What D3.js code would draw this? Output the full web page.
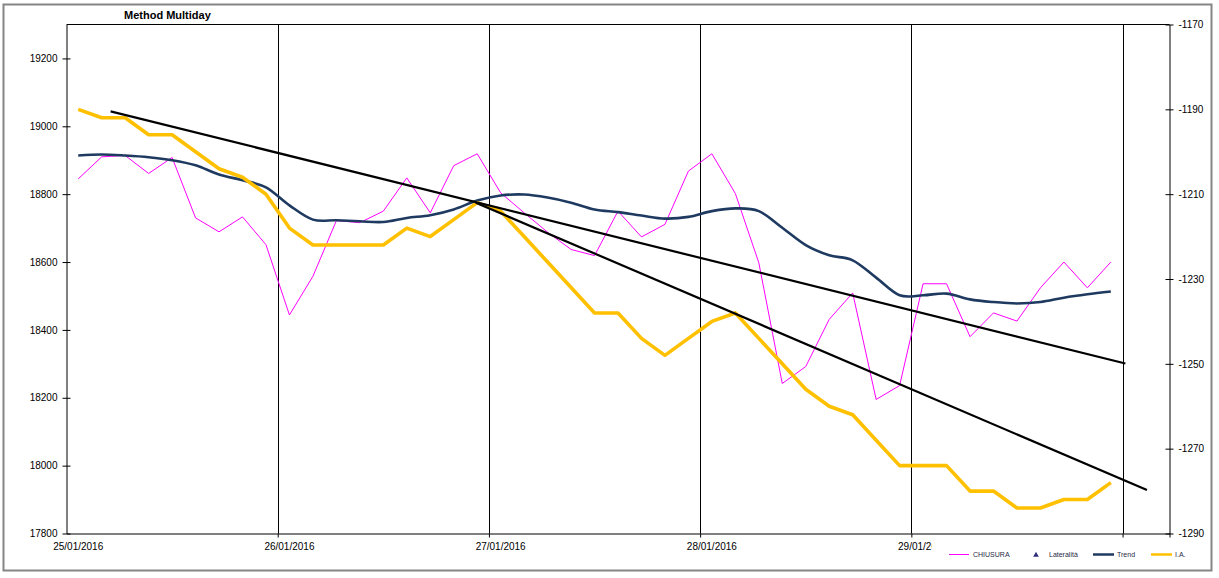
<!DOCTYPE html>
<html><head><meta charset="utf-8">
<script src="https://cdn.jsdelivr.net/npm/d3@7"></script>
<style>body{margin:0;background:#fff}svg{display:block;font-family:"Liberation Sans",Arial,sans-serif}</style>
</head><body><svg id="c" width="1219" height="578"></svg>
<script>
// ---------------- data ----------------
const chartTitle = "Method Multiday";
const dayLabels = ["25/01/2016","26/01/2016","27/01/2016","28/01/2016","29/01/2016"];
const slotsPerDay = 9;
const categoryCount = 47;
const chiusura = [18845,18910,18914,18861,18908,18730,18689,18733,18651,18444,
  18558,18722,18716,18750,18848,18745,18884,18919,18804,18745,
  18688,18637,18619,18750,18674,18711,18868,18919,18802,18598,
  18242,18292,18431,18509,18195,18236,18536,18536,18380,18450,
  18426,18524,18600,18524,18600];
const trend = [18914,18917,18914,18909,18900,18885,18858,18841,18820,18767,
  18725,18723,18720,18718,18730,18738,18755,18781,18796,18799,
  18790,18775,18755,18747,18737,18728,18733,18750,18758,18750,
  18701,18650,18620,18605,18554,18502,18502,18507,18490,18482,
  18478,18482,18495,18505,18513];
const ia = [-1190,-1192,-1192,-1196,-1196,-1200,-1204,-1206,-1210,-1218,
  -1222,-1222,-1222,-1222,-1218,-1220,-1216,-1212,-1214,-1220,
  -1226,-1232,-1238,-1238,-1244,-1248,-1244,-1240,-1238,-1244,
  -1250,-1256,-1260,-1262,-1268,-1274,-1274,-1274,-1280,-1280,
  -1284,-1284,-1282,-1282,-1278];
// drawn trend lines: [category position, left-axis value]
const trendLineA = [[1.38,19044],[44.62,18301]];
const trendLineB = [[16.94,18775],[45.54,17928]];
const leftTicks = [17800,18000,18200,18400,18600,18800,19000,19200];
const leftDomain = [17800,19300];
const rightTicks = [-1290,-1270,-1250,-1230,-1210,-1190,-1170];
const rightDomain = [-1290,-1170];
const legendNames = ["CHIUSURA","Lateralità","Trend","I.A."];

// ---------------- layout ----------------
const L=66.5, R=1169.5, T=24.5, B=533.5;
const svg = d3.select("#c");
const x = d3.scaleLinear().domain([-0.5, categoryCount-0.5]).range([L,R]);
const yL = d3.scaleLinear().domain(leftDomain).range([B,T]);
const yR = d3.scaleLinear().domain(rightDomain).range([B,T]);

const colPink="#FF00FF", colNavy="#1F3A60", colYellow="#FFC000";

// outer border
svg.append("rect").attr("x",3.5).attr("y",4.5).attr("width",1208).attr("height",566)
  .attr("fill","#fff").attr("stroke","#858585").attr("stroke-width",2);

// title
svg.append("text").attr("x",124).attr("y",19).attr("font-size",11).attr("font-weight","bold")
  .attr("fill","#000").text(chartTitle);

// plot area top border
svg.append("line").attr("x1",L).attr("x2",R).attr("y1",T).attr("y2",T).attr("stroke","#000");

// vertical gridlines at day boundaries
const boundaries = d3.range(1, dayLabels.length+1).map(d => d*slotsPerDay - 0.5);
svg.append("g").selectAll("line").data(boundaries).join("line")
  .attr("x1",d=>Math.round(x(d))+0.5).attr("x2",d=>Math.round(x(d))+0.5)
  .attr("y1",T).attr("y2",B).attr("stroke","#000").attr("stroke-width",1);

// left axis
const gL = svg.append("g").attr("transform",`translate(${L},0)`)
  .call(d3.axisLeft(yL).tickValues(leftTicks).tickFormat(d=>String(d)).tickSize(4).tickPadding(5).tickSizeOuter(0));
gL.select(".domain").attr("stroke","#000");
gL.selectAll(".tick line").attr("x1",4).attr("x2",-4).attr("stroke","#000");
gL.selectAll("text").attr("font-size",10).attr("font-family","Liberation Sans, Arial, sans-serif").attr("fill","#000");

// right axis
const gR = svg.append("g").attr("transform",`translate(${R},0)`)
  .call(d3.axisRight(yR).tickValues(rightTicks).tickFormat(d=>String(d)).tickSize(4).tickPadding(5).tickSizeOuter(0));
gR.select(".domain").attr("stroke","#000");
gR.selectAll(".tick line").attr("x1",-4).attr("x2",4).attr("stroke","#000");
gR.selectAll("text").attr("font-size",10).attr("font-family","Liberation Sans, Arial, sans-serif").attr("fill","#000");

// bottom axis
const gB = svg.append("g").attr("transform",`translate(0,${B})`)
  .call(d3.axisBottom(x).tickValues([...boundaries, categoryCount-0.5]).tickFormat("").tickSize(4).tickSizeOuter(0));
gB.select(".domain").attr("stroke","#000");
gB.selectAll(".tick line").attr("stroke","#000");
svg.append("g").selectAll("text").data(dayLabels).join("text")
  .attr("x",(d,i)=>x(i*slotsPerDay)).attr("y",B+16).attr("text-anchor","middle")
  .attr("font-size",10).attr("fill","#000").text(d=>d);

// series
const lineL = d3.line().x((d,i)=>x(i)).y(d=>yL(d));
const lineR = d3.line().x((d,i)=>x(i)).y(d=>yR(d));
svg.append("path").attr("d",lineL(chiusura)).attr("fill","none").attr("stroke",colPink).attr("stroke-width",1);
svg.append("path").attr("d",lineL.curve(d3.curveCardinal.tension(0))(trend)).attr("fill","none")
  .attr("stroke",colNavy).attr("stroke-width",2.6).attr("stroke-linejoin","round");
svg.append("path").attr("d",lineR(ia)).attr("fill","none").attr("stroke",colYellow).attr("stroke-width",3.6).attr("stroke-linejoin","round");

// drawn trend lines
const tl = d3.line().x(d=>x(d[0])).y(d=>yL(d[1]));
[trendLineA, trendLineB].forEach(t=>{
  svg.append("path").attr("d",tl(t)).attr("fill","none").attr("stroke","#000").attr("stroke-width",2.2);
});

// legend
const lg = svg.append("g");
lg.append("rect").attr("x",932).attr("y",539).attr("width",258).attr("height",26).attr("fill","#fff");
const legendX = [949, 1031, 1093, 1151];
const legendTextX = [973, 1049, 1117, 1175];
const ly = 554.5;
lg.append("line").attr("x1",legendX[0]).attr("x2",legendX[0]+20).attr("y1",ly).attr("y2",ly).attr("stroke",colPink).attr("stroke-width",1);
lg.append("path").attr("d",d3.symbol(d3.symbolTriangle,14)()).attr("transform",`translate(1036,${ly+0.5})`).attr("fill","#2E2E7A");
lg.append("line").attr("x1",legendX[2]).attr("x2",legendX[2]+21).attr("y1",ly).attr("y2",ly).attr("stroke",colNavy).attr("stroke-width",2.5);
lg.append("line").attr("x1",legendX[3]).attr("x2",legendX[3]+21).attr("y1",ly).attr("y2",ly).attr("stroke",colYellow).attr("stroke-width",2.5);
lg.selectAll("text").data(legendNames).join("text")
  .attr("x",(d,i)=>legendTextX[i]).attr("y",ly+2.5).attr("font-size",7).attr("fill","#1F2A44").text(d=>d);
</script></body></html>
